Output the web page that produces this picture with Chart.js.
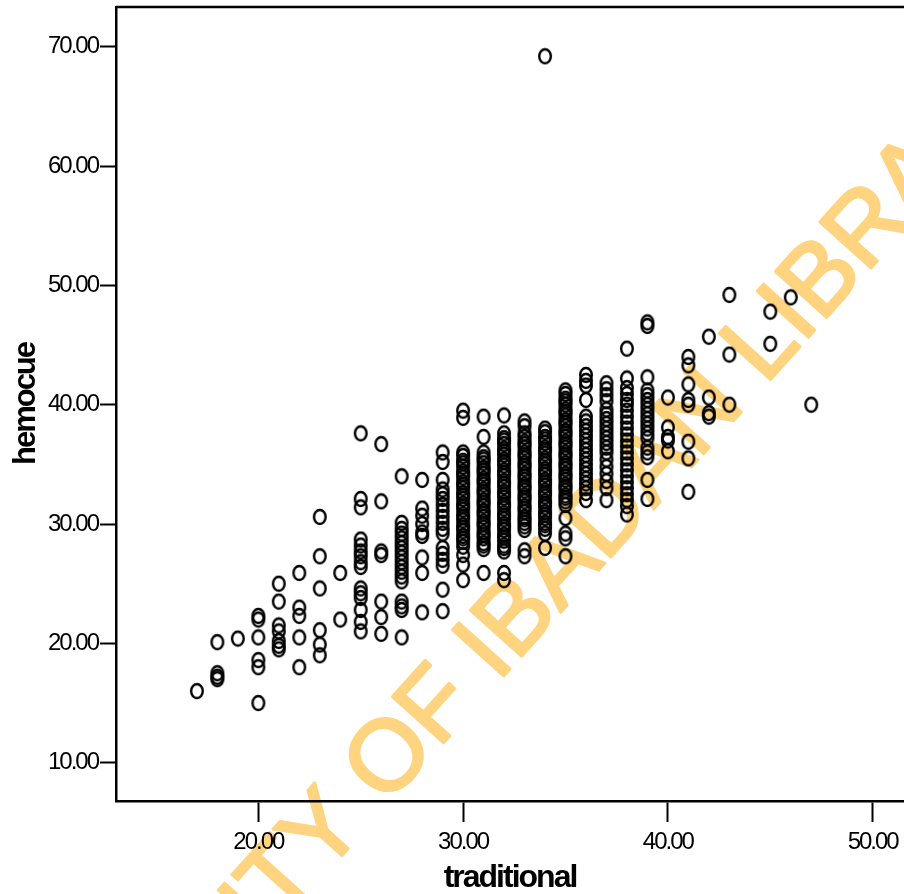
<!DOCTYPE html>
<html>
<head>
<meta charset="utf-8">
<script src="https://cdn.jsdelivr.net/npm/chart.js@4.4.1/dist/chart.umd.min.js"></script>
<style>
  html, body { margin: 0; padding: 0; background: #fff; }
  #wrap { position: relative; width: 904px; height: 894px; }
</style>
</head>
<body>
<div id="wrap"><canvas id="chart"></canvas></div>
<script>
// traditional (x) columns and the hemocue (y) readings seen in each column
const traditional = [17, 18, 19, 20, 21, 22, 23, 24, 25, 26, 27, 28, 29, 30, 31, 32, 33, 34, 35, 36, 37, 38, 39, 40, 41, 42, 43, 45, 46, 47];
const hemocue = [
  [16.0],
  [20.1, 17.5, 17.2, 17.0],
  [20.4],
  [22.3, 22.0, 20.5, 18.6, 18.0, 15.0],
  [25.0, 23.5, 21.5, 21.0, 20.2, 19.8, 19.5],
  [25.9, 23.0, 22.3, 20.5, 18.0],
  [30.6, 27.3, 24.6, 21.1, 19.9, 19.0],
  [25.9, 22.0],
  [37.6, 32.1, 31.4, 28.7, 28.2, 27.7, 27.3, 26.8, 26.4, 24.6, 24.2, 23.8, 22.8, 21.8, 21.0],
  [36.7, 31.9, 27.7, 27.4, 23.5, 22.2, 20.8],
  [34.0, 30.1, 29.6, 29.2, 28.8, 28.4, 28.0, 27.6, 27.2, 26.8, 26.4, 26.0, 25.6, 25.2, 23.5, 23.1, 22.8, 20.5],
  [33.7, 31.3, 30.7, 30.0, 29.3, 29.0, 27.2, 25.9, 22.6],
  [36.0, 35.2, 33.7, 32.9, 32.5, 32.1, 31.6, 31.1, 30.6, 30.1, 29.6, 29.2, 28.0, 27.5, 27.0, 26.5, 24.5, 22.7],
  [39.5, 38.9, 36.0, 35.7, 35.3, 35.1, 34.8, 34.4, 34.2, 33.9, 33.5, 33.3, 33.0, 32.6, 32.4, 32.1, 31.7, 31.5, 31.2, 30.8, 30.6, 30.3, 29.9, 29.7, 29.4, 29.0, 28.8, 28.5, 28.1, 27.4, 26.6, 25.3],
  [39.0, 37.3, 36.0, 35.6, 35.4, 35.1, 34.7, 34.5, 34.2, 33.8, 33.6, 33.3, 32.9, 32.7, 32.4, 32.0, 31.8, 31.5, 31.1, 30.9, 30.6, 30.2, 30.0, 29.7, 29.3, 29.1, 28.8, 28.4, 28.2, 27.9, 25.9],
  [39.1, 37.6, 37.2, 37.0, 36.7, 36.3, 36.1, 35.8, 35.4, 35.2, 34.9, 34.5, 34.3, 34.0, 33.6, 33.4, 33.1, 32.7, 32.5, 32.2, 31.8, 31.6, 31.3, 30.9, 30.7, 30.4, 30.0, 29.8, 29.5, 29.1, 28.9, 28.6, 28.2, 28.0, 27.7, 25.9, 25.3],
  [38.6, 38.2, 37.6, 37.3, 36.9, 36.7, 36.4, 36.0, 35.8, 35.5, 35.1, 34.9, 34.6, 34.2, 34.0, 33.7, 33.3, 33.1, 32.8, 32.4, 32.2, 31.9, 31.5, 31.3, 31.0, 30.6, 30.4, 30.1, 29.8, 29.5, 27.8, 27.3],
  [69.2, 38.0, 37.7, 37.3, 37.1, 36.8, 36.4, 36.2, 35.9, 35.5, 35.3, 35.0, 34.6, 34.4, 34.1, 33.7, 33.5, 33.2, 32.8, 32.6, 32.3, 31.9, 31.7, 31.4, 31.0, 30.8, 30.5, 30.1, 29.9, 29.6, 29.2, 28.0],
  [41.2, 40.9, 40.5, 40.3, 40.0, 39.6, 39.4, 39.1, 38.7, 38.5, 38.2, 37.8, 37.6, 37.3, 36.9, 36.7, 36.4, 36.0, 35.8, 35.5, 35.1, 34.9, 34.6, 34.2, 34.0, 33.7, 33.3, 33.1, 32.8, 32.4, 32.2, 31.9, 31.6, 30.5, 29.2, 28.8, 27.3],
  [42.5, 42.0, 41.6, 40.4, 39.0, 38.6, 38.2, 37.8, 37.4, 37.0, 36.6, 36.2, 35.8, 35.4, 35.0, 34.6, 34.2, 33.8, 33.4, 33.0, 32.6, 32.0],
  [41.8, 41.3, 40.8, 40.3, 39.6, 39.2, 38.8, 38.4, 38.0, 37.6, 37.2, 36.8, 36.4, 36.0, 35.4, 34.8, 34.2, 33.6, 33.0, 32.0],
  [44.7, 42.2, 41.4, 40.9, 40.4, 40.0, 39.5, 39.0, 38.5, 38.0, 37.5, 37.0, 36.5, 36.0, 35.5, 35.0, 34.5, 34.0, 33.5, 33.0, 32.5, 32.0, 31.5, 30.8],
  [46.9, 46.6, 42.3, 41.2, 40.8, 40.4, 40.0, 39.6, 39.2, 38.8, 38.4, 38.0, 37.6, 37.2, 36.4, 36.0, 35.6, 33.7, 32.1],
  [40.6, 38.1, 37.3, 37.0, 36.1],
  [44.0, 43.3, 41.7, 40.4, 40.0, 36.9, 35.5, 32.7],
  [45.7, 40.6, 39.3, 39.0],
  [49.2, 44.2, 40.0],
  [47.8, 45.1],
  [49.0],
  [40.0],
];
const xTicks = [20, 30, 40, 50];
const yTicks = [10, 20, 30, 40, 50, 60, 70];

const FONT = '"Liberation Sans", Arial, sans-serif';
const WATERMARK = 'UNIVERSITY OF IBADAN LIBRARY';

// open ellipse marker (source markers are slightly taller than wide)
function ringMarker() {
  const c = document.createElement('canvas');
  c.width = 16;
  c.height = 18;
  const g = c.getContext('2d');
  g.strokeStyle = '#000';
  g.lineWidth = 2.4;
  g.beginPath();
  g.ellipse(8, 9, 5.8, 7.0, 0, 0, Math.PI * 2);
  g.stroke();
  return c;
}

const points = [];
traditional.forEach((x, i) => {
  hemocue[i].forEach((y) => points.push({ x, y }));
});

// diagonal library stamp behind everything; also tightens the chart text
// afterwards (the source lettering is condensed)
const watermark = {
  id: 'watermark',
  beforeDraw(chart) {
    const ctx = chart.ctx;
    ctx.save();
    ctx.translate(508, 671);
    ctx.rotate(-48 * Math.PI / 180);
    ctx.font = '100px "Liberation Sans", Arial, sans-serif';
    ctx.fillStyle = '#FFD480';
    ctx.strokeStyle = '#FFD480';
    ctx.lineWidth = 3;
    ctx.lineJoin = 'round';
    ctx.textAlign = 'center';
    ctx.textBaseline = 'alphabetic';
    ctx.fillText(WATERMARK, 0, 0);
    ctx.strokeText(WATERMARK, 0, 0);
    ctx.restore();
    ctx.letterSpacing = '-2px';
  },
};

// top edge of the plot frame
const frameTop = {
  id: 'frameTop',
  afterDraw(chart) {
    const { ctx, chartArea } = chart;
    ctx.save();
    ctx.strokeStyle = '#000';
    ctx.lineWidth = 2.5;
    ctx.beginPath();
    ctx.moveTo(chartArea.left, chartArea.top);
    ctx.lineTo(chartArea.right, chartArea.top);
    ctx.stroke();
    ctx.restore();
  },
};

new Chart(document.getElementById('chart'), {
  type: 'scatter',
  data: {
    datasets: [{
      data: points,
      pointStyle: ringMarker(),
      pointRadius: 6,
      showLine: false,
    }],
  },
  options: {
    responsive: true,
    maintainAspectRatio: false,
    animation: false,
    devicePixelRatio: 1,
    layout: { autoPadding: false, padding: { top: 7, left: 0, right: 0, bottom: 0 } },
    plugins: { legend: { display: false }, tooltip: { enabled: false } },
    scales: {
      x: {
        type: 'linear',
        position: 'bottom',
        min: 13.05,
        max: 51.53,
        afterBuildTicks: (s) => { s.ticks = xTicks.map((v) => ({ value: v })); },
        afterFit: (s) => { s.height = 93; s.paddingLeft = 0; s.paddingRight = 0; },
        grid: { display: true, drawOnChartArea: false, drawTicks: true, tickLength: 21, tickWidth: 2, tickColor: '#000' },
        border: { display: true, color: '#000', width: 2.5 },
        ticks: {
          color: '#000',
          autoSkip: false,
          maxRotation: 0,
          padding: 6,
          font: { family: FONT, size: 24 },
          callback: (v) => Number(v).toFixed(2),
        },
        title: {
          display: true,
          text: 'traditional',
          color: '#000',
          padding: 0,
          font: { family: FONT, size: 32, weight: 'bold', lineHeight: 1 },
        },
      },
      y: {
        type: 'linear',
        min: 6.79,
        max: 73.33,
        afterBuildTicks: (s) => { s.ticks = yTicks.map((v) => ({ value: v })); },
        afterFit: (s) => { s.width = 116; s.paddingTop = 0; s.paddingBottom = 0; },
        grid: { display: true, drawOnChartArea: false, drawTicks: true, tickLength: 16, tickWidth: 2, tickColor: '#000' },
        border: { display: true, color: '#000', width: 2.5 },
        ticks: {
          color: '#000',
          autoSkip: false,
          padding: 2,
          font: { family: FONT, size: 24 },
          callback: (v) => Number(v).toFixed(2),
        },
        title: {
          display: true,
          text: 'hemocue',
          color: '#000',
          padding: { top: 11, bottom: 0 },
          font: { family: FONT, size: 31, weight: 'bold', lineHeight: 1 },
        },
      },
    },
  },
  plugins: [watermark, frameTop],
});
</script>
</body>
</html>
